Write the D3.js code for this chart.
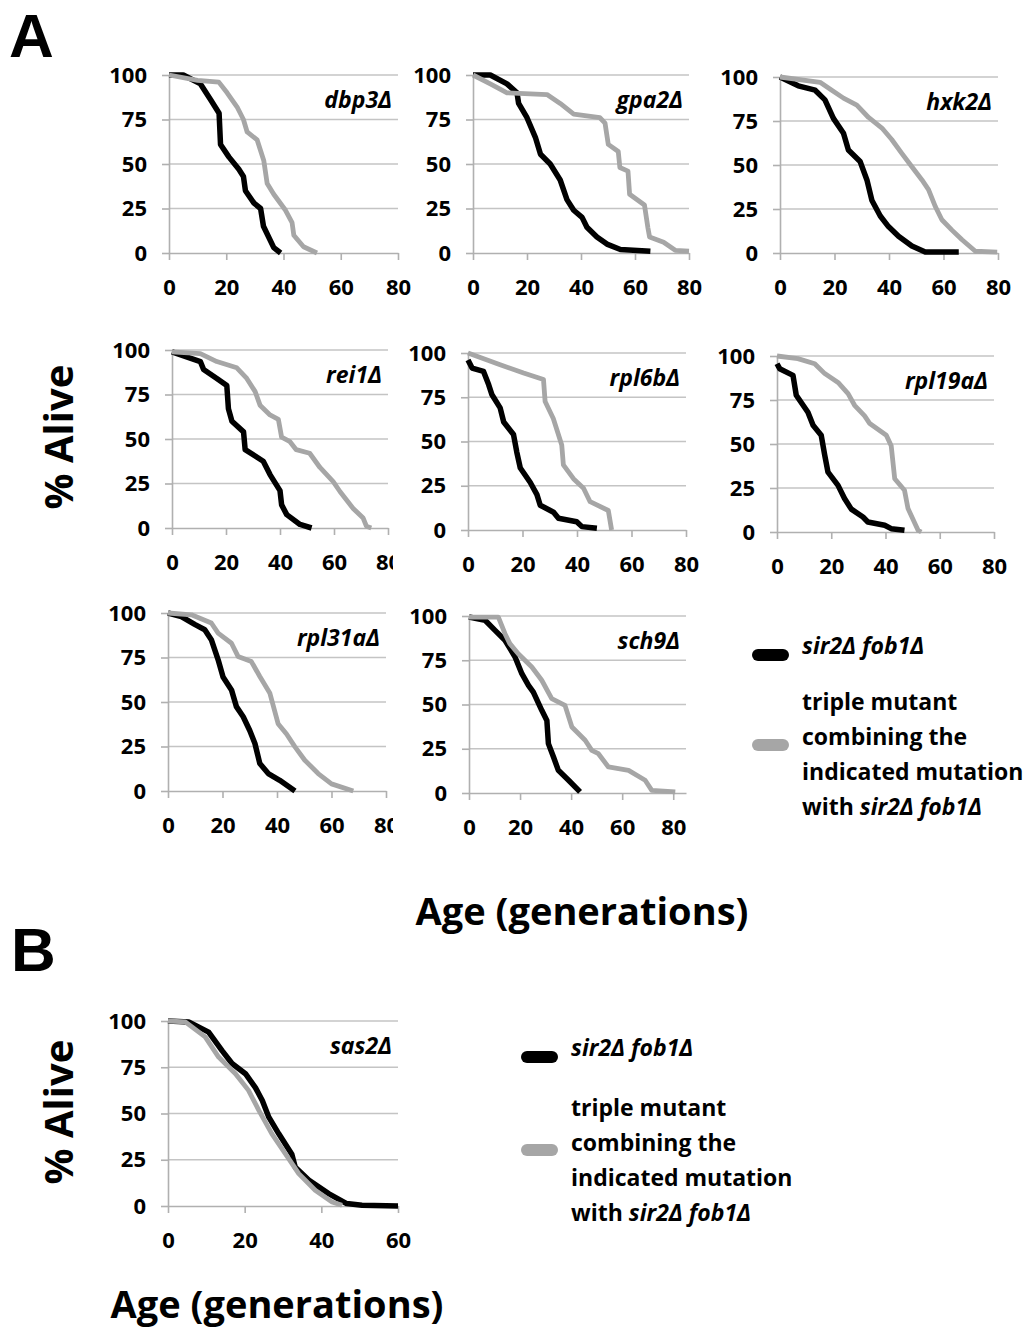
<!DOCTYPE html>
<html>
<head>
<meta charset="utf-8">
<script src="https://cdn.jsdelivr.net/npm/d3@7"></script>
<style>
  body { margin: 0; background: #fff; }
  svg { display: block; }
  text { font-family: "Open Sans", "DejaVu Sans", sans-serif; font-weight: 700; fill: #000; }
</style>
</head>
<body>
<svg id="chart" width="1031" height="1328"></svg>
<script>
// Replicative lifespan curves: [age in generations, % alive]
// "Double" = sir2Δ fob1Δ, "Triple" = indicated deletion combined with sir2Δ fob1Δ
const dbp3Double = [[0,100],[5,100],[11,95],[14.6,86],[17.5,78.5],[18,61],[20.9,54],[24.4,47],[26,43],[26.7,35],[29.7,28],[32,25],[33,15],[36.6,3],[39,0]];
const dbp3Triple = [[0,100],[10,97],[17.4,96],[20.3,90],[23.8,82],[26,75],[27.3,68],[30.8,63.5],[33.1,52],[34.3,39],[36.6,33],[40.7,24],[43,17],[43.6,10],[47,3.5],[51.7,0]];

const gpa2Double = [[0,100],[6.4,100],[12.6,95],[16.3,90],[16.9,84],[20,76],[23.1,65],[25,55.5],[28.6,50],[32.3,41],[34.8,30],[37.3,24],[40.4,20],[42.2,14.5],[45.9,9],[49.6,5],[54.6,2],[65.7,1]];
const gpa2Triple = [[0,100],[6.4,95],[12.6,90],[27.4,89],[32.3,84],[37.3,78],[47,76],[48.9,73],[50.1,61],[53.8,57],[54.4,48],[57.4,46],[58,33],[63.5,27],[64.8,14],[65.4,9],[70.6,6],[74.9,1.5],[80,1]];

const hxk2Double = [[0,100],[6.7,95],[12.9,92.5],[16.5,87],[19.6,76.5],[23.3,68],[25.1,58.5],[29.4,52],[31.9,41.5],[33.7,30],[36.8,21],[39.8,15],[43.5,9.5],[48.4,4],[53.3,0.6],[65.6,0.6]];
const hxk2Triple = [[0,100],[14.7,97],[19,92.5],[23.3,88],[28.2,84],[32.5,77],[37.4,71],[41,64.5],[44.7,56.6],[48.4,49],[52.1,41.5],[54.5,36],[57,26.4],[59.4,18.9],[63.1,13],[66.8,7.5],[71.7,1],[79.7,0.5]];

const rei1Double = [[0,99],[10.5,93.5],[11.7,89],[16.6,84],[20.3,80],[20.9,67],[22.2,60],[26.5,54],[27.1,44],[33.8,37.5],[36.3,30],[40,21],[40.6,13],[42.5,7.5],[47.4,2],[51.7,0]];
const rei1Triple = [[0,99],[10.5,98],[16.6,93.5],[24,90],[27.7,84],[30.8,76.6],[32.6,69],[36.3,63.5],[39.4,61],[40.6,51],[43.7,48.5],[46,44],[51,42],[54.8,34],[59.7,26],[62.2,20.5],[67.1,11],[70.8,5.6],[72,1],[73.8,0]];

const rpl6bDouble = [[0,96],[1.5,91.5],[5.7,89.6],[7.6,82],[8.8,76.4],[11.8,69],[13.1,61],[16.7,54],[17.9,44],[19.2,35],[22.8,27],[25.3,20],[26.5,14],[31.4,10],[33.2,6.6],[39.9,4.7],[41.8,1.9],[47.3,1]];
const rpl6bTriple = [[0,100],[11.8,93.4],[20.4,88.7],[27.7,85],[28.3,72.6],[31.3,63],[34.4,48],[35,36.8],[38.7,29],[42.4,23.6],[44.8,16],[51.5,11],[52.7,0]];

const rpl19aDouble = [[0,95.6],[1,92.8],[5.9,89],[7.1,77.7],[11.4,68],[13.3,60.6],[16.3,55],[17.6,43.6],[18.8,34],[22.5,26.5],[24.9,19],[27.4,13],[31.7,8.5],[33.5,5.7],[39.7,3.8],[42.1,1.9],[47,1]];
const rpl19aTriple = [[0,100],[7.7,98.5],[13.9,95.6],[17.6,90],[22.5,85],[26.2,78.6],[28.6,72],[32.3,66],[34.2,61.6],[40.3,55],[42.1,49],[43.4,30.3],[47,23.7],[48.3,13.3],[52,1],[53.2,0]];

const rpl31aDouble = [[0,100],[4.9,98],[9.8,93.6],[13.5,90.6],[15.9,85],[18.4,73.7],[20.2,64],[23.3,56.8],[25.1,47.4],[27.6,41.7],[30,34],[31.9,26.7],[33.7,15.4],[36.8,9.8],[41,6],[46.6,0]];
const rpl31aTriple = [[0,100],[8.6,99],[15.9,94.4],[18.4,88.7],[23.3,83],[25.7,75.6],[30.6,72.7],[33.7,64.3],[37.4,54.9],[40.4,37.8],[43.5,32],[46.6,24.8],[50.2,17.3],[55.1,9.8],[60,4],[68,0]];

const sch9Double = [[0,99.4],[6.3,97.6],[10.2,91.9],[14.1,86.3],[18,77],[20.7,67.4],[23.3,60.8],[25.2,57],[28.5,46.7],[30.5,41],[31.1,27.9],[33.1,20.3],[35,12.8],[39,7.2],[43.5,0.6]];
const sch9Triple = [[0,99.4],[11.5,99.4],[14.1,90],[16,84.4],[19.3,78.7],[24.6,71.2],[28.5,63.7],[32.4,53.3],[37.6,49.5],[40.3,37.3],[45.5,29.8],[48.1,24.1],[50.7,22.2],[54.6,14.7],[62.5,12.8],[69,7.2],[71.6,1.5],[80.8,0.6]];

const sas2Double = [[0,100],[5.4,99.5],[10.6,94],[14.1,84],[16.7,77],[20.2,71.5],[22.8,64],[24.6,57],[26.3,48],[28.9,39],[32.3,28],[33.2,21],[36.7,14],[41.9,6.7],[46.6,1.3],[50.6,0.4],[60,0]];
const sas2Triple = [[0,100],[4.5,99.5],[9.7,91.4],[13.2,80.5],[17.6,71.5],[21,62.5],[23.7,51.7],[27.1,39],[30.6,28.3],[34.1,17.5],[38.4,8.5],[42.8,2.2],[45.4,0.4]];

// Tick values
const yTicks = [0, 25, 50, 75, 100];
const xTicksA = [0, 20, 40, 60, 80];
const xTicksB = [0, 20, 40, 60];

// Legend entries
const legendDouble = "sir2Δ fob1Δ";
const legendTripleLines = ["triple mutant", "combining the", "indicated mutation"];

// Panel layout (pixel boxes of each plot area)
const panels = [
  { title: "dbp3Δ",   dbl: dbp3Double,   tpl: dbp3Triple,   xTicks: xTicksA, xMax: 80, left: 169, right: 398, top: 75,   bottom: 253 },
  { title: "gpa2Δ",   dbl: gpa2Double,   tpl: gpa2Triple,   xTicks: xTicksA, xMax: 80, left: 473, right: 689, top: 75,   bottom: 253 },
  { title: "hxk2Δ",   dbl: hxk2Double,   tpl: hxk2Triple,   xTicks: xTicksA, xMax: 80, left: 780, right: 998, top: 77,   bottom: 253 },
  { title: "rei1Δ",   dbl: rei1Double,   tpl: rei1Triple,   xTicks: xTicksA, xMax: 80, left: 172, right: 388, top: 350,  bottom: 528 },
  { title: "rpl6bΔ",  dbl: rpl6bDouble,  tpl: rpl6bTriple,  xTicks: xTicksA, xMax: 80, left: 468, right: 686, top: 353,  bottom: 530, coverLeft: 393 },
  { title: "rpl19aΔ", dbl: rpl19aDouble, tpl: rpl19aTriple, xTicks: xTicksA, xMax: 80, left: 777, right: 994, top: 356,  bottom: 532 },
  { title: "rpl31aΔ", dbl: rpl31aDouble, tpl: rpl31aTriple, xTicks: xTicksA, xMax: 80, left: 168, right: 386, top: 613,  bottom: 791 },
  { title: "sch9Δ",   dbl: sch9Double,   tpl: sch9Triple,   xTicks: xTicksA, xMax: 85, left: 469, right: 686, top: 616,  bottom: 793, coverLeft: 393 },
  { title: "sas2Δ",   dbl: sas2Double,   tpl: sas2Triple,   xTicks: xTicksB, xMax: 60, left: 168, right: 398, top: 1021, bottom: 1206 }
];

const BLACK = "#000000";
const GREY = "#a6a6a6";
const GRID = "#c4c4c4";
const AXIS = "#b0b0b0";
const tickFont = 22;

const svg = d3.select("#chart");

panels.forEach(p => {
  const g = svg.append("g");

  // white panel background clips the neighbour's overhanging tick label
  if (p.coverLeft != null) {
    g.append("rect")
      .attr("x", p.coverLeft).attr("y", p.top - 25)
      .attr("width", p.right + 12 - p.coverLeft).attr("height", p.bottom - p.top + 80)
      .attr("fill", "#fff");
  }

  const x = d3.scaleLinear().domain([0, p.xMax]).range([p.left, p.right]);
  const y = d3.scaleLinear().domain([0, 100]).range([p.bottom, p.top]);

  // horizontal gridlines
  g.append("g").selectAll("line")
    .data(yTicks.filter(v => v > 0))
    .join("line")
    .attr("x1", p.left).attr("x2", p.right)
    .attr("y1", d => y(d)).attr("y2", d => y(d))
    .attr("stroke", GRID).attr("stroke-width", 1.3);

  // y axis
  const ya = g.append("g")
    .attr("transform", `translate(${p.left},0)`)
    .call(d3.axisLeft(y).tickValues(yTicks).tickSize(7).tickSizeOuter(0).tickPadding(15));

  // x axis
  const xa = g.append("g")
    .attr("transform", `translate(0,${p.bottom})`)
    .call(d3.axisBottom(x).tickValues(p.xTicks).tickSize(7).tickSizeOuter(0).tickPadding(19));

  [ya, xa].forEach(a => {
    a.select(".domain").attr("stroke", AXIS).attr("stroke-width", 1.6);
    a.selectAll(".tick line").attr("stroke", AXIS).attr("stroke-width", 1.6);
    a.selectAll(".tick text")
      .attr("fill", "#000")
      .style("font-family", '"Open Sans", sans-serif')
      .style("font-weight", 700)
      .style("font-size", tickFont + "px");
  });

  const line = d3.line().x(d => x(d[0])).y(d => y(d[1]));

  g.append("path").datum(p.dbl)
    .attr("d", line).attr("fill", "none")
    .attr("stroke", BLACK).attr("stroke-width", 5.5)
    .attr("stroke-linejoin", "round");

  g.append("path").datum(p.tpl)
    .attr("d", line).attr("fill", "none")
    .attr("stroke", GREY).attr("stroke-width", 4.8)
    .attr("stroke-linejoin", "round");

  // mutation name
  g.append("text")
    .attr("x", p.right - 6).attr("y", p.top + 33)
    .attr("text-anchor", "end")
    .style("font-size", "23px")
    .style("font-style", "italic")
    .text(p.title);
});

// Legends
function legend(x0, yDouble, yTriple, yLines) {
  const g = svg.append("g");
  g.append("line")
    .attr("x1", x0 + 5).attr("x2", x0 + 30)
    .attr("y1", yDouble).attr("y2", yDouble)
    .attr("stroke", BLACK).attr("stroke-width", 12).attr("stroke-linecap", "round");
  g.append("line")
    .attr("x1", x0 + 5).attr("x2", x0 + 30)
    .attr("y1", yTriple).attr("y2", yTriple)
    .attr("stroke", GREY).attr("stroke-width", 12).attr("stroke-linecap", "round");

  g.append("text")
    .attr("x", x0 + 49).attr("y", yDouble - 1)
    .style("font-size", "23px").style("font-style", "italic")
    .text(legendDouble);

  legendTripleLines.forEach((t, i) => {
    g.append("text")
      .attr("x", x0 + 49).attr("y", yLines[i])
      .style("font-size", "23px")
      .text(t);
  });
  const last = g.append("text")
    .attr("x", x0 + 49).attr("y", yLines[3])
    .style("font-size", "23px");
  last.append("tspan").text("with ");
  last.append("tspan").style("font-style", "italic").text(legendDouble);
}

legend(753, 655, 745, [710, 745, 780, 815]);
legend(522, 1057, 1150, [1116, 1151, 1186, 1221]);

// Panel letters
svg.append("text").attr("x", 9).attr("y", 57)
  .style("font-family", '"Liberation Sans", sans-serif').style("font-size", "62px").text("A");
svg.append("text").attr("x", 11).attr("y", 971)
  .style("font-family", '"Liberation Sans", sans-serif').style("font-size", "62px").text("B");

// Axis titles
function yTitle(cx, cy) {
  svg.append("text")
    .attr("transform", `translate(${cx},${cy}) rotate(-90)`)
    .attr("text-anchor", "middle")
    .style("font-size", "40px")
    .text("% Alive");
}
yTitle(73, 437);
yTitle(73, 1112);

svg.append("text")
  .attr("x", 582).attr("y", 925)
  .attr("text-anchor", "middle")
  .style("font-size", "38px")
  .text("Age (generations)");

svg.append("text")
  .attr("x", 277).attr("y", 1318)
  .attr("text-anchor", "middle")
  .style("font-size", "38px")
  .text("Age (generations)");
</script>
</body>
</html>
